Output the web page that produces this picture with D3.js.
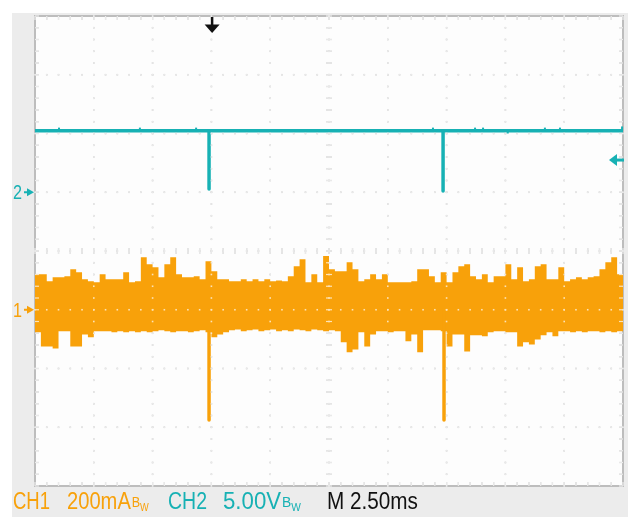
<!DOCTYPE html>
<html><head><meta charset="utf-8">
<script src="https://cdn.jsdelivr.net/npm/d3@7"></script>
<style>html,body{margin:0;padding:0;background:#fff}svg{display:block}</style>
</head><body>
<script>
// ---- data ----
const timeDomain = [0, 25];            // ms, 2.50 ms/div x 10
const ch1Domain = [-600, 1000];        // mA, 200 mA/div
const ch2Domain = [-25, 15];           // V, 5.00 V/div
const sampleStep = 0.25;               // ms between envelope samples
const ch1Upper = [121,121,97,111,111,114,138,128,104,97,
  94,121,104,104,104,128,94,97,179,155,
  145,111,155,179,121,111,111,114,104,165,
  131,104,104,97,97,104,97,104,97,104,
  97,100,97,114,148,172,94,121,94,183,
  138,131,131,162,138,97,104,121,104,121,
  94,94,94,94,97,138,138,114,94,128,
  94,128,148,155,114,104,121,94,114,114,
  155,104,145,97,104,148,155,104,104,145,
  97,104,111,104,111,114,138,162,179,121];
const ch1Lower = [-77,-125,-125,-132,-73,-73,-125,-125,-84,-94,
  -73,-73,-73,-77,-73,-77,-73,-77,-73,-77,
  -73,-70,-73,-77,-73,-73,-77,-73,-70,-77,
  -94,-84,-77,-70,-67,-73,-70,-67,-73,-70,
  -67,-73,-70,-73,-67,-70,-73,-67,-70,-73,
  -70,-73,-111,-145,-135,-77,-125,-84,-73,-73,
  -77,-73,-73,-107,-84,-145,-70,-70,-70,-73,
  -125,-84,-84,-142,-87,-87,-90,-77,-73,-73,
  -77,-77,-125,-111,-118,-101,-87,-77,-90,-73,
  -73,-77,-73,-77,-73,-73,-77,-73,-77,-73];
const ch1SpikeTimes = [7.40, 17.39];   // ms
const ch1SpikeMin = [-375, -375];      // mA
const ch2Level = 5.24;                 // V
const ch2SpikeTimes = [7.40, 17.35];   // ms
const ch2SpikeMin = [0.28, 0.10];      // V
const ch2GlitchTimes = [1.02, 4.46, 6.85, 16.92, 18.71, 19.05, 20.10, 21.68, 22.32, 24.96];
const ch2GlitchValues = [5.5, 5.5, 5.5, 5.5, 5.5, 5.5, 5.0, 5.5, 5.5, 5.6];
const triggerTime = 7.53;              // ms
const triggerLevelCh2 = 2.74;          // V
const ch1Ground = 0, ch2Ground = 0;
const readoutTexts = ["CH1", "200mA", "CH2", "5.00V", "M 2.50ms"];
const readoutHasBw = [false, true, false, true, false];

// ---- layout ----
const W = 634, H = 526;
const P = {l:35, r:623, t:16, b:486};
const ORANGE = "#f8a10a", CYAN = "#17b1b4", GRID = "#b4b4b4";
const FONT = "'Liberation Sans',Arial,sans-serif";

const svg = d3.select("body").append("svg").attr("width", W).attr("height", H);
svg.append("rect").attr("width", W).attr("height", H).attr("fill", "#fff");
svg.append("rect").attr("x", 12).attr("y", 13).attr("width", 616).attr("height", 504).attr("fill", "#ececec");
svg.append("rect").attr("x", P.l).attr("y", P.t).attr("width", P.r-P.l).attr("height", P.b-P.t)
  .attr("fill", "#fdfdfd");

const x = d3.scaleLinear().domain(timeDomain).range([P.l, P.r]);
const y1 = d3.scaleLinear().domain(ch1Domain).range([P.b, P.t]);
const y2 = d3.scaleLinear().domain(ch2Domain).range([P.b, P.t]);

const majorX = d3.range(0, 11).map(i => i*2.5);
const minorX = d3.range(0, 51).map(i => i*0.5);
const majorY = d3.range(-600, 1001, 200);
const minorY = d3.range(0, 41).map(i => -600 + i*40);

function drawDots(fill, blend) {
  const gg = svg.append("g");
  if (blend) gg.style("mix-blend-mode", blend);
  majorX.slice(1, -1).forEach(t => {
    minorY.forEach(v => gg.append("rect").attr("x", x(t)-0.8).attr("y", y1(v)-0.8).attr("width", 1.6).attr("height", 1.6).attr("fill", fill));
  });
  majorY.slice(1, -1).forEach(v => {
    minorX.forEach(t => gg.append("rect").attr("x", x(t)-0.8).attr("y", y1(v)-0.8).attr("width", 1.6).attr("height", 1.6).attr("fill", fill));
  });
  const cx = x(12.5), cy = y1(200);
  minorY.forEach(v => gg.append("line").attr("x1", cx-3).attr("x2", cx+3).attr("y1", y1(v)).attr("y2", y1(v)).attr("stroke", fill).attr("stroke-width", 1.2));
  minorX.forEach(t => gg.append("line").attr("x1", x(t)).attr("x2", x(t)).attr("y1", cy-3).attr("y2", cy+3).attr("stroke", fill).attr("stroke-width", 1.2));
  minorX.forEach(t => {
    gg.append("line").attr("x1", x(t)).attr("x2", x(t)).attr("y1", P.t).attr("y2", P.t+4).attr("stroke", fill).attr("stroke-width", 1.2);
    gg.append("line").attr("x1", x(t)).attr("x2", x(t)).attr("y1", P.b).attr("y2", P.b-4).attr("stroke", fill).attr("stroke-width", 1.2);
  });
  minorY.forEach(v => {
    gg.append("line").attr("x1", P.l).attr("x2", P.l+4).attr("y1", y1(v)).attr("y2", y1(v)).attr("stroke", fill).attr("stroke-width", 1.2);
    gg.append("line").attr("x1", P.r).attr("x2", P.r-4).attr("y1", y1(v)).attr("y2", y1(v)).attr("stroke", fill).attr("stroke-width", 1.2);
  });
}
drawDots(GRID, null);
svg.append("rect").attr("x", P.l).attr("y", P.t).attr("width", P.r-P.l).attr("height", P.b-P.t)
  .attr("fill", "none").attr("stroke", "#bdbdbd").attr("stroke-width", 2);

// CH1 envelope
const env = ch1Upper.map((u, i) => ({t: i*sampleStep, hi: u, lo: ch1Lower[i]}));
env.push({t: timeDomain[1], hi: ch1Upper[ch1Upper.length-1], lo: ch1Lower[ch1Lower.length-1]});
svg.append("path").datum(env)
  .attr("d", d3.area().x(d => x(d.t)).y0(d => y1(d.lo)).y1(d => y1(d.hi)).curve(d3.curveStepAfter))
  .attr("fill", ORANGE);
ch1SpikeTimes.forEach((t, i) => {
  svg.append("line").attr("x1", x(t)).attr("x2", x(t)).attr("y1", y1(ch1Ground)).attr("y2", y1(ch1SpikeMin[i]))
    .attr("stroke", ORANGE).attr("stroke-width", 3.5).attr("stroke-linecap", "round");
});

// CH2 trace
svg.append("line").attr("x1", x(timeDomain[0])).attr("x2", x(timeDomain[1]))
  .attr("y1", y2(ch2Level)).attr("y2", y2(ch2Level)).attr("stroke", CYAN).attr("stroke-width", 3.5);
ch2GlitchTimes.forEach((t, i) => {
  svg.append("line").attr("x1", x(t)).attr("x2", x(t)).attr("y1", y2(ch2Level)).attr("y2", y2(ch2GlitchValues[i]))
    .attr("stroke", CYAN).attr("stroke-width", 2);
});
ch2SpikeTimes.forEach((t, i) => {
  svg.append("line").attr("x1", x(t)).attr("x2", x(t)).attr("y1", y2(ch2Level)).attr("y2", y2(ch2SpikeMin[i]))
    .attr("stroke", CYAN).attr("stroke-width", 3.5).attr("stroke-linecap", "round");
});

// grid dots seen through the traces
drawDots(GRID, "screen");

// markers
function groundMarker(label, yy, color) {
  const t = svg.append("text").attr("font-family", FONT).attr("font-size", 20)
    .attr("fill", color).text(label);
  const w = t.node().getComputedTextLength();
  t.attr("transform", `translate(13,${yy+7}) scale(${9/w},1)`);
  svg.append("line").attr("x1", 24).attr("x2", 29).attr("y1", yy).attr("y2", yy).attr("stroke", color).attr("stroke-width", 2);
  svg.append("path").attr("d", `M27,${yy-4}L34,${yy}L27,${yy+4}Z`).attr("fill", color);
}
groundMarker("1", y1(ch1Ground), ORANGE);
groundMarker("2", y2(ch2Ground), CYAN);

const tx = x(triggerTime);
svg.append("line").attr("x1", tx).attr("x2", tx).attr("y1", 17).attr("y2", 27).attr("stroke", "#111").attr("stroke-width", 2.5);
svg.append("path").attr("d", `M${tx-7.5},24.5L${tx+7.5},24.5L${tx},33Z`).attr("fill", "#111");

const ty = y2(triggerLevelCh2);
svg.append("line").attr("x1", 615).attr("x2", 624).attr("y1", ty).attr("y2", ty).attr("stroke", CYAN).attr("stroke-width", 3);
svg.append("path").attr("d", `M609,${ty}L617,${ty-6}L617,${ty+6}Z`).attr("fill", CYAN);

// bottom readout (one text element per field, condensed horizontally)
const base = 509;
const readoutX = [13, 67, 168, 223, 327];
const readoutW = [37, 81, 39, 77, 91];
const readoutColor = [ORANGE, ORANGE, CYAN, CYAN, "#111"];
readoutTexts.forEach((txt, i) => {
  const t = svg.append("text").attr("font-family", FONT).attr("font-size", 24).attr("fill", readoutColor[i]);
  t.append("tspan").text(txt);
  if (readoutHasBw[i]) {
    t.append("tspan").attr("font-size", 15).attr("dx", 1).attr("dy", -2).text("B");
    t.append("tspan").attr("font-size", 11).attr("dy", 4).text("W");
  }
  const w = t.node().getComputedTextLength();
  t.attr("transform", `translate(${readoutX[i]},${base}) scale(${readoutW[i]/w},1)`);
});
</script>
</body></html>
